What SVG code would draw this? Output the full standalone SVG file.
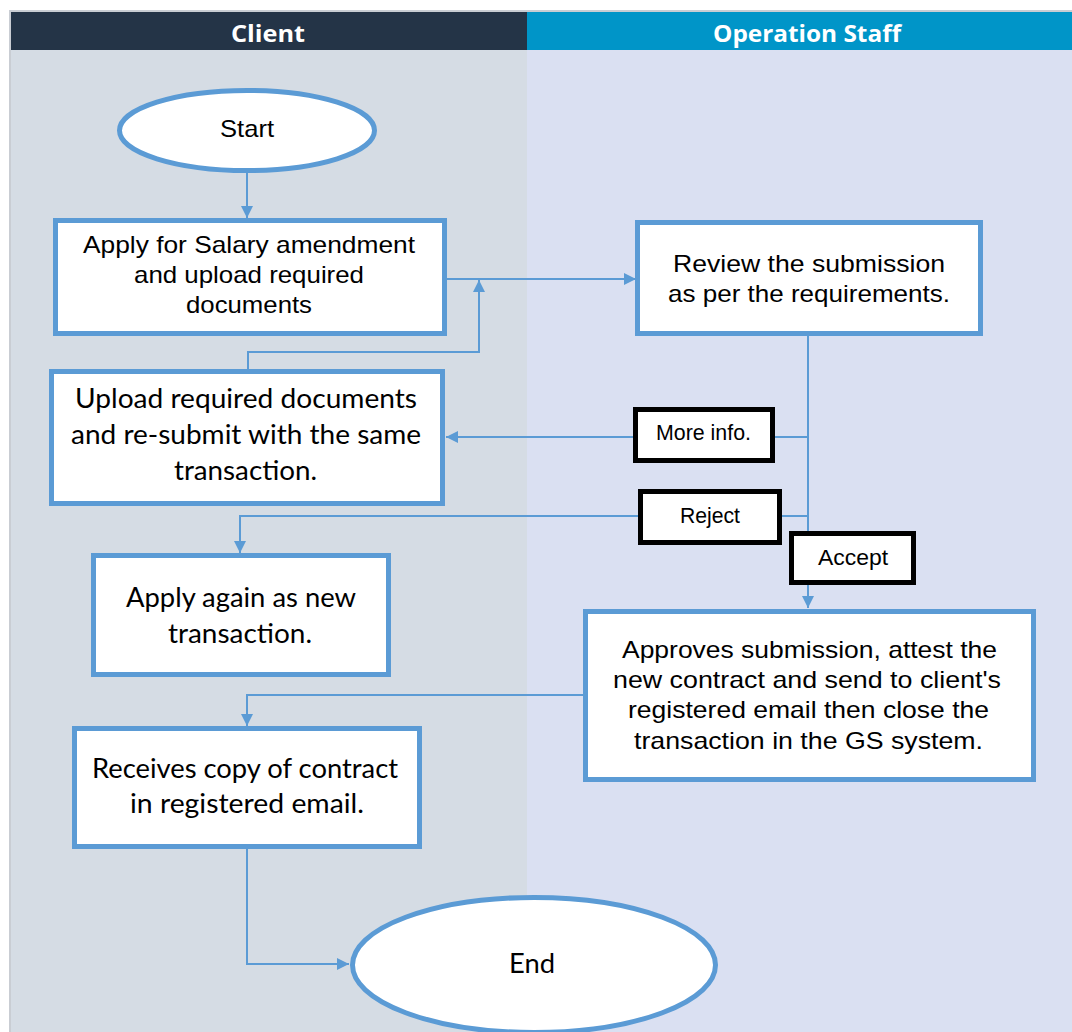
<svg xmlns="http://www.w3.org/2000/svg" width="1072" height="1032" viewBox="0 0 1072 1032">
<style>
.node rect.box{fill:#fff;stroke:#5B9BD5;stroke-width:5}
.node ellipse{fill:#fff;stroke:#5B9BD5;stroke-width:5}
.lbl rect{fill:#fff;stroke:#000;stroke-width:5}
.a{font-family:"Liberation Sans",Arial,sans-serif;font-size:24px;fill:#000}
.c{font-family:Lato,"Open Sans",sans-serif;font-size:26px;fill:#000}
.s{font-family:"Liberation Sans",Arial,sans-serif;font-size:22px;fill:#000}
.h{font-family:"Open Sans",Lato,sans-serif;font-size:24px;font-weight:bold;fill:#fff}
#connectors path{fill:none;stroke:#5B9BD5;stroke-width:2}
</style>
<defs>
<marker id="arr" viewBox="0 0 10 10" refX="10" refY="5" markerWidth="12" markerHeight="12" markerUnits="userSpaceOnUse" orient="auto">
<path d="M0,0 L10,5 L0,10 z" fill="#5B9BD5"/>
</marker>
</defs>
<rect x="0" y="0" width="1072" height="1032" fill="#fff"/>
<g id="lanes">
<rect x="9" y="10" width="1063" height="1022" fill="#C9CDD3"/>
<rect x="11" y="12" width="516" height="38" fill="#243447"/>
<rect x="527" y="12" width="545" height="38" fill="#0095C8"/>
<rect x="11" y="50" width="516" height="982" fill="#D5DCE4"/>
<rect x="527" y="50" width="545" height="982" fill="#DAE0F2"/>
<text class="h" x="231" y="42" textLength="74" lengthAdjust="spacingAndGlyphs">Client</text>
<text class="h" x="713" y="42" textLength="188" lengthAdjust="spacingAndGlyphs">Operation Staff</text>
</g>
<g id="connectors">
<path d="M247,172 V218" marker-end="url(#arr)"/>
<path d="M447,279 H636" marker-end="url(#arr)"/>
<path d="M248,369 V352 H479 V280" marker-end="url(#arr)"/>
<path d="M808,336 V608" marker-end="url(#arr)"/>
<path d="M808,437 H775"/>
<path d="M633,437 H446" marker-end="url(#arr)"/>
<path d="M808,516 H782"/>
<path d="M638,516 H240 V553" marker-end="url(#arr)"/>
<path d="M583,695 H247 V726" marker-end="url(#arr)"/>
<path d="M247,849 V964 H349" marker-end="url(#arr)"/>
</g>
<g id="start" class="node">
<ellipse cx="247" cy="130.5" rx="127.5" ry="40"/>
<text class="a" x="220" y="137" font-size="25" textLength="54" lengthAdjust="spacingAndGlyphs">Start</text>
</g>
<g id="apply" class="node">
<rect class="box" x="55.5" y="220.5" width="389" height="113"/>
<text class="a" x="83" y="253" textLength="332" lengthAdjust="spacingAndGlyphs">Apply for Salary amendment</text>
<text class="a" x="134" y="283" textLength="230" lengthAdjust="spacingAndGlyphs">and upload required</text>
<text class="a" x="186" y="313" textLength="126" lengthAdjust="spacingAndGlyphs">documents</text>
</g>
<g id="review" class="node">
<rect class="box" x="637.5" y="222.5" width="343" height="111"/>
<text class="a" x="673" y="272" textLength="272" lengthAdjust="spacingAndGlyphs">Review the submission</text>
<text class="a" x="668" y="302" textLength="282" lengthAdjust="spacingAndGlyphs">as per the requirements.</text>
</g>
<g id="upload" class="node">
<rect class="box" x="51.5" y="371.5" width="391" height="132"/>
<text class="c" x="75" y="408" textLength="342" lengthAdjust="spacingAndGlyphs">Upload required documents</text>
<text class="c" x="71" y="444" textLength="350" lengthAdjust="spacingAndGlyphs">and re-submit with the same</text>
<text class="c" x="174" y="480" textLength="143" lengthAdjust="spacingAndGlyphs">transaction.</text>
</g>
<g id="applyagain" class="node">
<rect class="box" x="93.5" y="555.5" width="295" height="119"/>
<text class="c" x="126" y="607" textLength="230" lengthAdjust="spacingAndGlyphs">Apply again as new</text>
<text class="c" x="168" y="643" textLength="144" lengthAdjust="spacingAndGlyphs">transaction.</text>
</g>
<g id="approves" class="node">
<rect class="box" x="585.5" y="611.5" width="448" height="168"/>
<text class="a" x="622" y="658" textLength="375" lengthAdjust="spacingAndGlyphs">Approves submission, attest the</text>
<text class="a" x="613" y="688" textLength="388" lengthAdjust="spacingAndGlyphs">new contract and send to client's</text>
<text class="a" x="628" y="718" textLength="361" lengthAdjust="spacingAndGlyphs">registered email then close the</text>
<text class="a" x="634" y="749" textLength="349" lengthAdjust="spacingAndGlyphs">transaction in the GS system.</text>
</g>
<g id="receives" class="node">
<rect class="box" x="74.5" y="728.5" width="345" height="118"/>
<text class="c" x="92" y="778" textLength="306" lengthAdjust="spacingAndGlyphs">Receives copy of contract</text>
<text class="c" x="130" y="813" textLength="234" lengthAdjust="spacingAndGlyphs">in registered email.</text>
</g>
<g id="end" class="node">
<ellipse cx="534" cy="965" rx="181.5" ry="67.5"/>
<text class="c" x="509" y="973" textLength="46" lengthAdjust="spacingAndGlyphs">End</text>
</g>
<g id="label-moreinfo" class="lbl">
<rect x="635.5" y="409.5" width="137" height="51"/>
<text class="s" x="656" y="440" textLength="95" lengthAdjust="spacingAndGlyphs">More info.</text>
</g>
<g id="label-reject" class="lbl">
<rect x="640.5" y="491.5" width="139" height="51"/>
<text class="s" x="680" y="523" textLength="60" lengthAdjust="spacingAndGlyphs">Reject</text>
</g>
<g id="label-accept" class="lbl">
<rect x="791.5" y="533.5" width="122" height="49"/>
<text class="s" x="818" y="565" textLength="70" lengthAdjust="spacingAndGlyphs">Accept</text>
</g>
</svg>
